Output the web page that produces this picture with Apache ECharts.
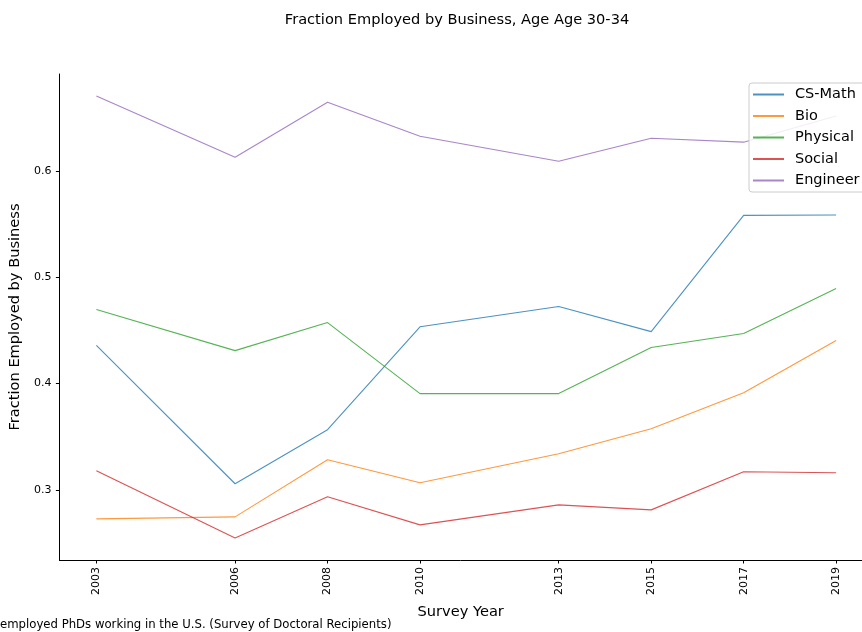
<!DOCTYPE html>
<html><head><meta charset="utf-8">
<script src="https://cdn.jsdelivr.net/npm/echarts@6/dist/echarts.min.js"></script>
<style>html,body{margin:0;padding:0;background:#fff}#c{width:862px;height:632px}</style>
</head><body><div id="c"></div>
<script>
const years = [2003, 2006, 2008, 2010, 2013, 2015, 2017, 2019];
const seriesNames = ['CS-Math', 'Bio', 'Physical', 'Social', 'Engineer'];
const csMath   = [0.436, 0.3057, 0.3566, 0.4535, 0.4726, 0.449, 0.5585, 0.5588];
const bio      = [0.2726, 0.2745, 0.3283, 0.3066, 0.334, 0.3575, 0.3915, 0.4406];
const physical = [0.4698, 0.4311, 0.4575, 0.3906, 0.3906, 0.434, 0.4472, 0.4896];
const social   = [0.3179, 0.2547, 0.2934, 0.267, 0.2858, 0.2811, 0.317, 0.316];
const engineer = [0.6708, 0.6132, 0.665, 0.633, 0.6094, 0.6311, 0.6274, 0.652];
const yTicks = [0.3, 0.4, 0.5, 0.6];
const colors = ['#1f77b4', '#ff7f0e', '#2ca02c', '#d62728', '#9467bd'];
const allValues = [csMath, bio, physical, social, engineer];

const font = 'DejaVu Sans';
const chart = echarts.init(document.getElementById('c'), null, {renderer: 'canvas'});
chart.setOption({
  animation: false,
  textStyle: {fontFamily: font},
  title: {
    text: 'Fraction Employed by Business, Age Age 30-34',
    left: 452, top: 8, textAlign: 'center',
    textStyle: {fontFamily: font, fontSize: 14.6, fontWeight: 'normal', color: '#000'}
  },
  graphic: [{
    type: 'text', left: 0, top: 619,
    style: {text: 'employed PhDs working in the U.S. (Survey of Doctoral Recipients)', font: '11.7px "DejaVu Sans"', fill: '#000'}
  }],
  legend: {
    orient: 'vertical', left: 749, top: 83,
    backgroundColor: 'rgba(255,255,255,0.85)',
    borderColor: '#cccccc', borderWidth: 1, borderRadius: 3,
    padding: [4, 6, 4, 4],
    itemWidth: 31, itemHeight: 2, itemGap: 6.5,
    icon: 'rect',
    textStyle: {fontFamily: font, fontSize: 14.5, color: '#000', lineHeight: 15, padding: [0, 0, 0, 6]},
    data: seriesNames
  },
  grid: {left: 58, right: 0, top: 74, bottom: 72},
  xAxis: {
    type: 'value', min: 2002.2, max: 2019.56,
    name: 'Survey Year', nameLocation: 'middle', nameGap: 45,
    nameTextStyle: {fontFamily: font, fontSize: 14.6, color: '#000'},
    axisLine: {show: true, lineStyle: {color: '#000', width: 1}},
    axisTick: {show: true, length: 3.5, lineStyle: {color: '#000'}, customValues: years},
    axisLabel: {rotate: 90, fontSize: 11, color: '#000', margin: 7, customValues: years, formatter: v => String(v)},
    splitLine: {show: false}
  },
  yAxis: {
    type: 'value', min: 0.2339, max: 0.6916,
    name: 'Fraction Employed by Business', nameLocation: 'middle', nameGap: 36,
    nameTextStyle: {fontFamily: font, fontSize: 14.6, color: '#000'},
    axisLine: {show: true, lineStyle: {color: '#000', width: 1}},
    axisTick: {show: true, length: 3.5, lineStyle: {color: '#000'}, customValues: yTicks},
    axisLabel: {fontSize: 11, color: '#000', margin: 8, customValues: yTicks, formatter: v => v.toFixed(1)},
    splitLine: {show: false}
  },
  series: seriesNames.map((n, i) => ({
    name: n, type: 'line', symbol: 'none',
    data: years.map((y, j) => [y, allValues[i][j]]),
    itemStyle: {color: colors[i], opacity: 0.8},
    lineStyle: {color: colors[i], width: 1.1, opacity: 0.8},
    z: 2
  }))
});
</script></body></html>
